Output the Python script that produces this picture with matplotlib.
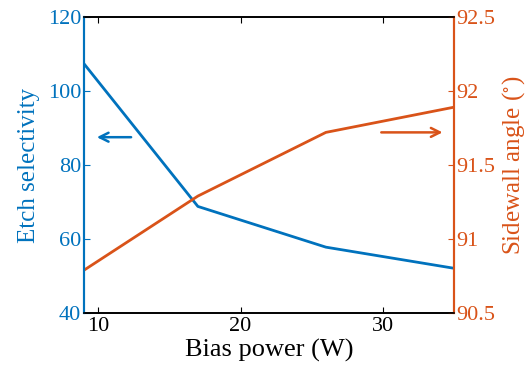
import matplotlib
matplotlib.use('Agg')
import matplotlib.pyplot as plt

# data
bias_power = [9, 17, 26, 35]
etch_selectivity = [107.3, 68.8, 57.8, 52.1]
sidewall_angle = [90.79, 91.29, 91.72, 91.89]

blue = '#0072BD'
orange = '#D95319'

plt.rcParams['font.family'] = 'serif'
plt.rcParams['font.serif'] = ['Liberation Serif', 'DejaVu Serif']
plt.rcParams['mathtext.fontset'] = 'stix'

fig = plt.figure(figsize=(5.29, 3.67), dpi=100)
ax1 = fig.add_axes([0.159, 0.147, 0.699, 0.807])
ax2 = ax1.twinx()

ax1.plot(bias_power, etch_selectivity, color=blue, lw=2)
ax2.plot(bias_power, sidewall_angle, color=orange, lw=2)

ax1.set_xlim(9, 35)
ax1.set_ylim(40, 120)
ax2.set_ylim(90.5, 92.5)
ax1.set_xticks([10, 20, 30])
ax1.set_yticks([40, 60, 80, 100, 120])
ax2.set_yticks([90.5, 91, 91.5, 92, 92.5])
ax2.set_yticklabels(['90.5', '91', '91.5', '92', '92.5'])

ax1.tick_params(axis='x', direction='in', top=True, length=4, labelsize=16, pad=3)
ax1.tick_params(axis='y', direction='in', colors=blue, length=4, labelsize=16, pad=2)
ax2.tick_params(axis='y', direction='in', colors=orange, length=4, labelsize=16, pad=2)

for ax in (ax1, ax2):
    ax.spines['left'].set_color(blue)
    ax.spines['right'].set_color(orange)
    ax.spines['left'].set_linewidth(1.5)
    ax.spines['right'].set_linewidth(1.5)
    ax.spines['top'].set_linewidth(1.2)
    ax.spines['bottom'].set_linewidth(1.2)

ax1.set_xlabel('Bias power (W)', fontsize=19, labelpad=2)
ax1.set_ylabel('Etch selectivity', fontsize=18, color=blue, labelpad=6)
ax2.set_ylabel('Sidewall angle ($^{\\circ}$)', fontsize=18, color=orange, labelpad=3)

# direction arrows
ax1.annotate('', xy=(9.7, 87.5), xytext=(12.5, 87.5),
             arrowprops=dict(arrowstyle='->', color=blue, lw=1.8,
                             mutation_scale=16))
ax2.annotate('', xy=(34.4, 91.72), xytext=(29.7, 91.72),
             arrowprops=dict(arrowstyle='->', color=orange, lw=1.8,
                             mutation_scale=16))

plt.savefig('out.png', dpi=100)
